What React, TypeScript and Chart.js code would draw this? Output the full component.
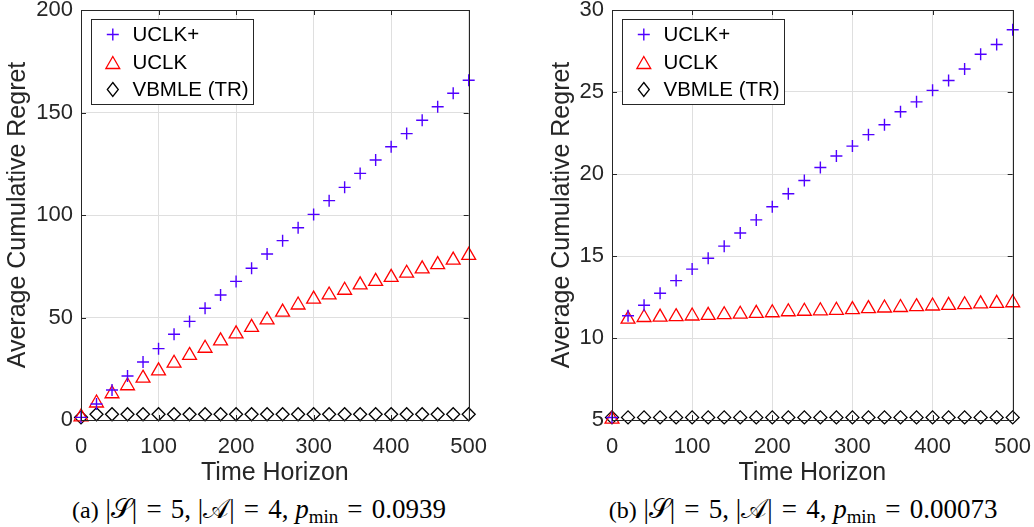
import React, { useEffect, useRef } from 'react';
import { Chart, registerables } from 'chart.js';

Chart.register(...registerables);

// ---------------- data ----------------
const timeHorizon = [0, 20, 40, 60, 80, 100, 120, 140, 160, 180, 200, 220, 240, 260, 280, 300, 320, 340, 360, 380, 400, 420, 440, 460, 480, 500];

// panel (a)
const uclkPlusA = [1.3, 7.8, 14.6, 21.5, 28.3, 34.8, 41.8, 48.1, 54.5, 61, 67.6, 74, 81, 87.5, 93.8, 100.3, 107, 113.5, 120.3, 126.8, 133.3, 139.7, 146.2, 152.8, 159.4, 165.7];
const uclkA = [1.5, 8.3, 12.8, 16.7, 20.4, 24, 27.7, 31.5, 35, 38.6, 42, 45.2, 48.8, 52.6, 56.1, 59, 61, 63.3, 65.9, 67.6, 69.6, 71.6, 73.7, 75.8, 78, 80.3];
const vbmleA = [1.3, 2.8, 2.8, 2.8, 2.8, 2.8, 2.8, 2.8, 2.8, 2.8, 2.8, 2.8, 2.8, 2.8, 2.8, 2.8, 2.8, 2.8, 2.8, 2.8, 2.8, 2.8, 2.8, 2.8, 2.8, 2.8];

// panel (b)
const uclkPlusB = [5.15, 11.36, 12.0, 12.73, 13.5, 14.2, 14.86, 15.6, 16.4, 17.2, 18.0, 18.8, 19.6, 20.4, 21.1, 21.7, 22.4, 23.0, 23.8, 24.4, 25.1, 25.7, 26.4, 27.3, 27.9, 28.8];
const uclkB = [5.05, 11.15, 11.25, 11.27, 11.3, 11.34, 11.38, 11.42, 11.45, 11.5, 11.54, 11.6, 11.63, 11.66, 11.69, 11.73, 11.79, 11.83, 11.86, 11.91, 11.95, 11.99, 12.03, 12.08, 12.11, 12.15];
const vbmleB = [5.16, 5.16, 5.16, 5.16, 5.16, 5.16, 5.16, 5.16, 5.16, 5.16, 5.16, 5.16, 5.16, 5.16, 5.16, 5.16, 5.16, 5.16, 5.16, 5.16, 5.16, 5.16, 5.16, 5.16, 5.16, 5.16];

const seriesNames = ['UCLK+', 'UCLK', 'VBMLE (TR)'];
const xTicks = { min: 0, max: 500, step: 100 };
const yTicksA = { min: 0, max: 200, step: 50 };
const yTicksB = { min: 5, max: 30, step: 5 };

const xTitle = 'Time Horizon';
const yTitle = 'Average Cumulative Regret';

// ---------------- styles ----------------
const TEXT = '#262626';
const GRID = '#dfdfdf';
const PLUS_COLOR = '#5000ff';
const TRI_COLOR = '#ff0000';
const DIA_COLOR = '#000000';
const SANS = '"Liberation Sans", Arial, Helvetica, sans-serif';

const pointStyles = ['cross', 'triangle', 'rectRot'];
const pointRadii = [6, 8, 6.5];
const pointWidths = [1.4, 1.3, 1.3];

type PanelProps = {
  left: number;
  width: number;
  height: number;
  yAxisWidth: number;
  rightPad: number;
  yTitlePad: number;
  yTicks: { min: number; max: number; step: number };
  series: number[][];
};

function Panel(props: PanelProps) {
  const ref = useRef<HTMLCanvasElement | null>(null);
  useEffect(() => {
    if (!ref.current) return;
    const colors = [PLUS_COLOR, TRI_COLOR, DIA_COLOR];

    const framePlugin = {
      id: 'frame',
      afterDraw(chart: any) {
        const { ctx, chartArea: a, scales } = chart;
        ctx.save();
        // inward ticks
        ctx.strokeStyle = TEXT;
        ctx.lineWidth = 1;
        const tl = 5;
        scales.y.ticks.forEach((t: any) => {
          const y = Math.round(scales.y.getPixelForValue(t.value)) + 0.5;
          ctx.beginPath();
          ctx.moveTo(a.left, y); ctx.lineTo(a.left + tl, y);
          ctx.moveTo(a.right, y); ctx.lineTo(a.right - tl, y);
          ctx.stroke();
        });
        scales.x.ticks.forEach((t: any) => {
          const x = Math.round(scales.x.getPixelForValue(t.value)) + 0.5;
          ctx.beginPath();
          ctx.moveTo(x, a.bottom); ctx.lineTo(x, a.bottom - tl);
          ctx.moveTo(x, a.top); ctx.lineTo(x, a.top + tl);
          ctx.stroke();
        });
        ctx.strokeRect(Math.round(a.left) + 0.5, Math.round(a.top) + 0.5, Math.round(a.right - a.left), Math.round(a.bottom - a.top));

        // legend box
        const bx = Math.round(a.left + 9.7) + 0.5;
        const by = Math.round(a.top + 9.3) + 0.5;
        const bw = 162;
        const bh = 85;
        ctx.fillStyle = '#ffffff';
        ctx.fillRect(bx, by, bw, bh);
        ctx.strokeStyle = TEXT;
        ctx.lineWidth = 1;
        ctx.strokeRect(bx, by, bw, bh);
        ctx.font = '20.5px ' + SANS;
        ctx.textBaseline = 'middle';
        ctx.textAlign = 'left';
        const rows = [15, 43, 70];
        seriesNames.forEach((name, i) => {
          const ry = by + rows[i];
          const mx = bx + 21.3;
          ctx.strokeStyle = colors[i];
          ctx.lineWidth = pointWidths[i];
          ctx.beginPath();
          const r = pointRadii[i];
          if (i === 0) {
            ctx.moveTo(mx - r, ry); ctx.lineTo(mx + r, ry);
            ctx.moveTo(mx, ry - r); ctx.lineTo(mx, ry + r);
          } else if (i === 1) {
            const cy = ry + r * 0.25;
            ctx.moveTo(mx, cy - r);
            ctx.lineTo(mx + r * 0.866, cy + r * 0.5);
            ctx.lineTo(mx - r * 0.866, cy + r * 0.5);
            ctx.closePath();
          } else {
            ctx.moveTo(mx, ry - 7); ctx.lineTo(mx + 5.5, ry); ctx.lineTo(mx, ry + 7); ctx.lineTo(mx - 5.5, ry);
            ctx.closePath();
          }
          ctx.stroke();
          ctx.fillStyle = '#000000';
          ctx.fillText(name, bx + 41, ry + 1);
        });
        ctx.restore();
      },
    };

    const chart = new Chart(ref.current, {
      type: 'scatter',
      data: {
        datasets: props.series.map((vals, i) => ({
          label: seriesNames[i],
          data: timeHorizon.map((t, k) => ({ x: t, y: vals[k] })),
          pointStyle: pointStyles[i] as any,
          pointRadius: pointRadii[i],
          pointHoverRadius: pointRadii[i],
          pointBorderWidth: pointWidths[i],
          borderColor: colors[i],
          backgroundColor: 'rgba(0,0,0,0)',
          showLine: false,
          clip: false as any,
        })),
      },
      options: {
        animation: false,
        responsive: false,
        events: [],
        layout: { padding: { left: 0, right: props.rightPad, top: 10, bottom: 0 } },
        plugins: { legend: { display: false }, tooltip: { enabled: false } },
        scales: {
          x: {
            type: 'linear',
            min: xTicks.min,
            max: xTicks.max,
            afterFit: (s: any) => { s.height = 70; s.paddingLeft = 0; s.paddingRight = 0; },
            ticks: { stepSize: xTicks.step, color: TEXT, font: { family: SANS, size: 22 }, padding: 14, maxRotation: 0 },
            grid: { color: GRID, drawTicks: false, lineWidth: 1 },
            border: { display: false },
            title: { display: true, text: xTitle, color: TEXT, font: { family: SANS, size: 25 }, padding: { top: 0, bottom: 2 } },
          },
          y: {
            type: 'linear',
            min: props.yTicks.min,
            max: props.yTicks.max,
            afterFit: (s: any) => { s.width = props.yAxisWidth; s.paddingTop = 0; s.paddingBottom = 0; },
            ticks: { stepSize: props.yTicks.step, color: TEXT, font: { family: SANS, size: 22 }, padding: 8 },
            grid: { color: GRID, drawTicks: false, lineWidth: 1 },
            border: { display: false },
            title: { display: true, text: yTitle, color: TEXT, font: { family: SANS, size: 25 }, padding: { top: props.yTitlePad, bottom: 0 } },
          },
        },
      },
      plugins: [framePlugin],
    });
    return () => chart.destroy();
  }, []);
  return (
    <canvas
      ref={ref}
      width={props.width}
      height={props.height}
      style={{ position: 'absolute', left: props.left, top: 0, width: props.width, height: props.height }}
    />
  );
}

const captionStyle: React.CSSProperties = {
  position: 'absolute',
  top: 494,
  textAlign: 'center',
  fontFamily: '"Liberation Serif", "Times New Roman", "DejaVu Serif", serif',
  fontSize: 27,
  color: '#000',
  whiteSpace: 'nowrap',
  lineHeight: '30px',
};

const eq: React.CSSProperties = { margin: '0 0.34em' };

function Caption(props: { tag: string; pmin: string; center: number }) {
  return (
    <div style={{ ...captionStyle, left: props.center - 250, width: 500 }}>
      <span style={{ fontSize: 24 }}>({props.tag})</span> |𝒮|<span style={eq}>=</span>5, |𝒜|<span style={eq}>=</span>4, <i>p</i>
      <span style={{ fontSize: '0.7em', position: 'relative', top: '0.25em' }}>min</span>
      <span style={eq}>=</span>{props.pmin}
    </div>
  );
}

export default function App() {
  return (
    <div style={{ position: 'fixed', left: 0, top: 0, width: 1034, height: 527, background: '#fff', overflow: 'hidden' }}>
      <Panel left={0} width={500} height={490} yAxisWidth={81} rightPad={31.3} yTitlePad={3} yTicks={yTicksA} series={[uclkPlusA, uclkA, vbmleA]} />
      <Panel left={530} width={510} height={490} yAxisWidth={82} rightPad={27.3} yTitlePad={16.7} yTicks={yTicksB} series={[uclkPlusB, uclkB, vbmleB]} />
      <Caption tag="a" pmin="0.0939" center={259} />
      <Caption tag="b" pmin="0.00073" center={803} />
    </div>
  );
}
